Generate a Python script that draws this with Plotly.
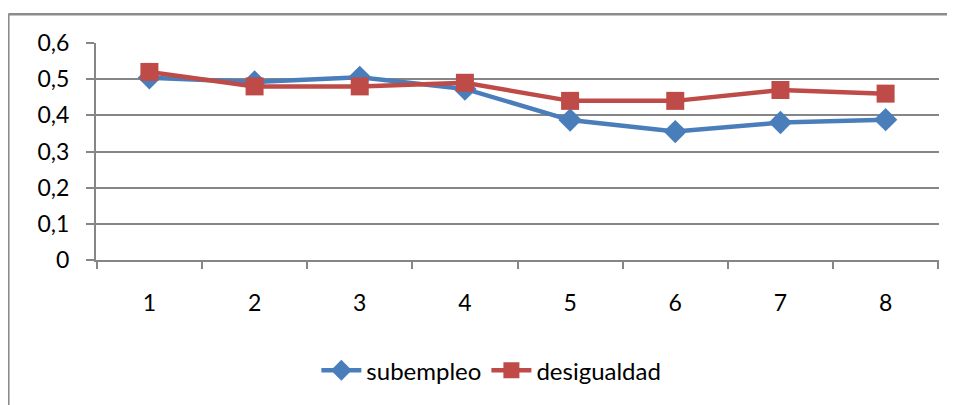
import plotly.graph_objects as go

categories = ["1", "2", "3", "4", "5", "6", "7", "8"]
subempleo = [0.504, 0.492, 0.505, 0.473, 0.387, 0.355, 0.380, 0.388]
desigualdad = [0.52, 0.48, 0.48, 0.49, 0.44, 0.44, 0.47, 0.46]
y_ticks = [0, 0.1, 0.2, 0.3, 0.4, 0.5, 0.6]

FONT = "Lato"
GRID = "#868686"

fig = go.Figure()
fig.add_trace(go.Scatter(
    x=categories, y=subempleo, name="subempleo", mode="lines+markers",
    line=dict(color="#4A7EBB", width=4.5),
    marker=dict(symbol="diamond", size=18, color="#4A7EBB"),
))
fig.add_trace(go.Scatter(
    x=categories, y=desigualdad, name="desigualdad", mode="lines+markers",
    line=dict(color="#BE4B48", width=4.5),
    marker=dict(symbol="square", size=18, color="#BE4B48"),
))

fig.update_layout(
    width=947, height=397,
    margin=dict(l=88, r=16, t=35, b=142),
    paper_bgcolor="white", plot_bgcolor="white",
    separators=",.",
    font=dict(family=FONT, size=22, color="#000000"),
    showlegend=True,
    legend=dict(orientation="h", x=0.469, xanchor="center", y=-0.51, yanchor="middle",
                font=dict(family=FONT, size=24, color="#000000"), traceorder="normal",
                itemwidth=40),
    xaxis=dict(type="category", tickson="boundaries", ticks="outside", ticklen=7,
               tickcolor=GRID, tickwidth=1.5, showline=True, linecolor=GRID, linewidth=2,
               showgrid=False, ticklabelstandoff=21, zeroline=False,
               tickfont=dict(family=FONT, size=23, color="#000000")),
    yaxis=dict(range=[0, 0.6], tickvals=y_ticks, ticks="outside", ticklen=8,
               tickcolor=GRID, tickwidth=1.5, showline=True, linecolor=GRID, linewidth=2,
               showgrid=True, gridcolor=GRID, gridwidth=1.5, zeroline=False,
               ticklabelstandoff=12,
               tickfont=dict(family=FONT, size=23, color="#000000")),
    shapes=[
        dict(type="line", xref="paper", yref="paper", x0=-0.104, x1=1.03, y0=1.132, y1=1.132,
             line=dict(color="#8c8c8c", width=2.5)),
        dict(type="line", xref="paper", yref="paper", x0=-0.104, x1=-0.104, y0=1.132, y1=-0.7,
             line=dict(color="#8c8c8c", width=2.5)),
    ],
)

fig.write_html("out.html")
